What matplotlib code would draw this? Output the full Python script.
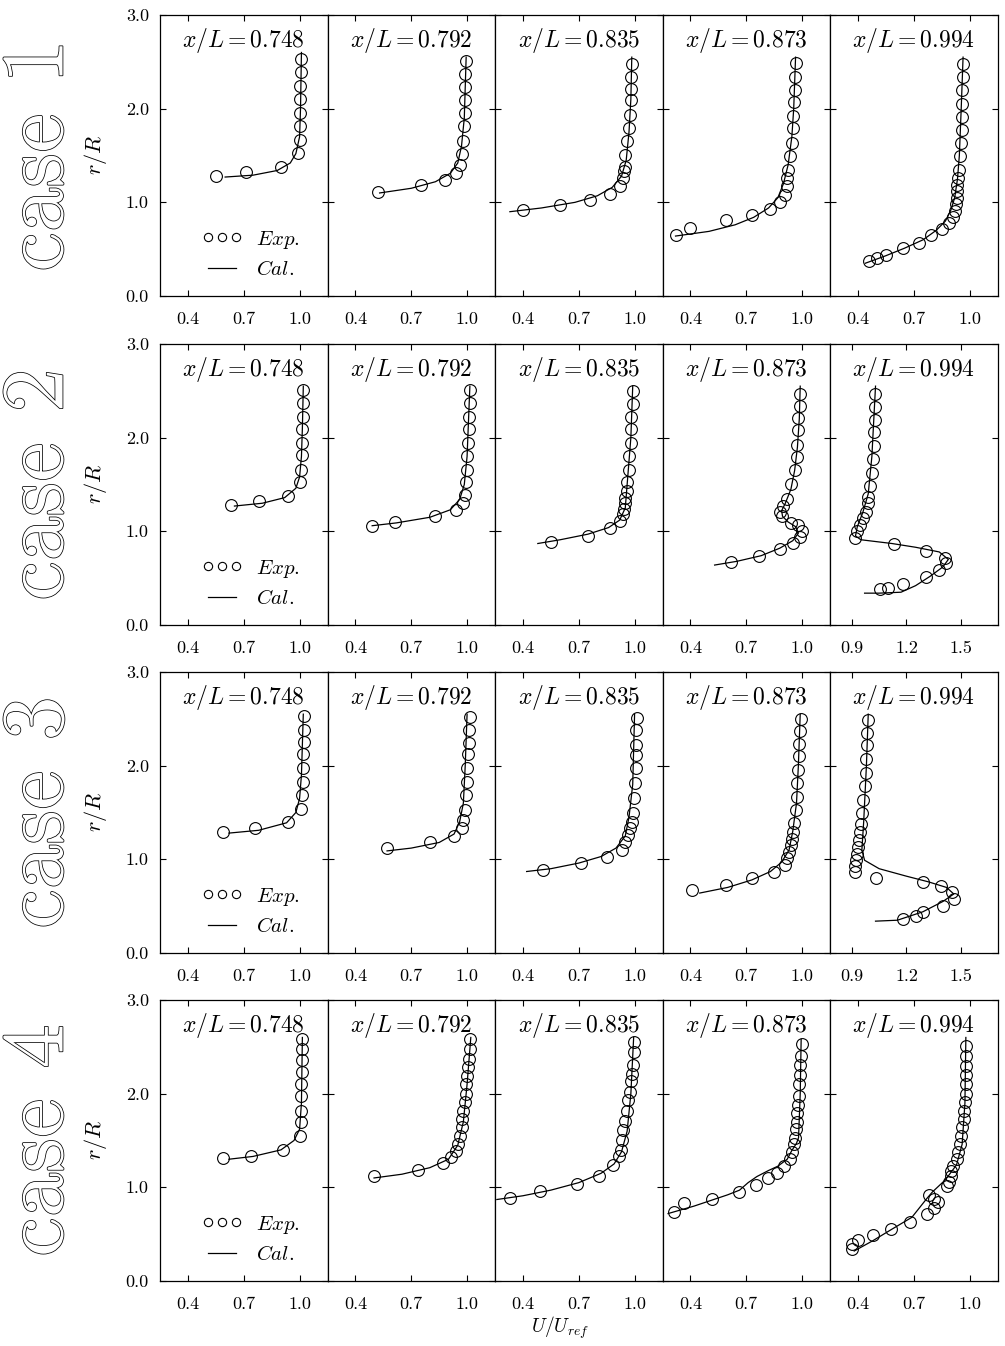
import matplotlib
matplotlib.use("Agg")
import matplotlib.pyplot as plt
import matplotlib.patheffects as pe

plt.rcParams['font.family'] = 'cmr10'
plt.rcParams['mathtext.fontset'] = 'cm'
plt.rcParams['axes.formatter.use_mathtext'] = True

stations = ['0.748', '0.792', '0.835', '0.873', '0.994']
case_names = ['case 1', 'case 2', 'case 3', 'case 4']

# tick sets: 'n' = 0.4/0.7/1.0, 'w' = 0.9/1.2/1.5
ticks_n = [0.4, 0.7, 1.0]
ticks_w = [0.9, 1.2, 1.5]
panel_kind = [['n', 'n', 'n', 'n', 'n'],
              ['n', 'n', 'n', 'n', 'w'],
              ['n', 'n', 'n', 'n', 'w'],
              ['n', 'n', 'n', 'n', 'n']]

# ---------------- case 1 ----------------
c1_exp_u = [
    [0.55, 0.71, 0.90, 0.99, 1.00, 1.00, 1.00, 1.00, 1.00, 1.01, 1.01],
    [0.52, 0.75, 0.88, 0.94, 0.96, 0.97, 0.98, 0.985, 0.99, 0.99, 0.99, 0.99, 0.995],
    [0.40, 0.60, 0.76, 0.87, 0.92, 0.94, 0.945, 0.95, 0.95, 0.96, 0.97, 0.975, 0.98, 0.98, 0.98, 0.985],
    [0.32, 0.40, 0.59, 0.73, 0.83, 0.88, 0.91, 0.92, 0.92, 0.925, 0.935, 0.945, 0.95, 0.95, 0.955, 0.96, 0.96, 0.965],
    [0.46, 0.50, 0.55, 0.64, 0.73, 0.79, 0.85, 0.89, 0.91, 0.92, 0.925, 0.93, 0.93, 0.935, 0.94, 0.945,
     0.95, 0.955, 0.96, 0.96, 0.96, 0.96, 0.965, 0.965],
]
c1_exp_r = [
    [1.28, 1.32, 1.38, 1.53, 1.67, 1.81, 1.95, 2.10, 2.24, 2.39, 2.53],
    [1.11, 1.18, 1.24, 1.31, 1.40, 1.52, 1.66, 1.81, 1.95, 2.09, 2.23, 2.37, 2.51],
    [0.92, 0.97, 1.02, 1.09, 1.17, 1.26, 1.33, 1.38, 1.51, 1.65, 1.79, 1.93, 2.09, 2.21, 2.34, 2.48],
    [0.65, 0.73, 0.81, 0.87, 0.93, 1.00, 1.08, 1.17, 1.26, 1.35, 1.49, 1.63, 1.79, 1.92, 2.07, 2.20, 2.34, 2.49],
    [0.37, 0.41, 0.44, 0.51, 0.57, 0.65, 0.72, 0.78, 0.84, 0.91, 0.98, 1.05, 1.12, 1.19, 1.26, 1.35,
     1.49, 1.63, 1.77, 1.91, 2.05, 2.20, 2.34, 2.48],
]
c1_cal_u = [
    [0.60, 0.75, 0.88, 0.95, 0.98, 1.00, 1.005, 1.01],
    [0.53, 0.70, 0.83, 0.91, 0.95, 0.97, 0.985, 0.995],
    [0.33, 0.50, 0.68, 0.80, 0.88, 0.93, 0.955, 0.97, 0.98, 0.985],
    [0.32, 0.50, 0.64, 0.74, 0.82, 0.87, 0.90, 0.925, 0.945, 0.955, 0.965],
    [0.44, 0.55, 0.65, 0.75, 0.82, 0.87, 0.90, 0.92, 0.935, 0.945, 0.955, 0.965],
]
c1_cal_r = [
    [1.27, 1.29, 1.34, 1.42, 1.52, 1.70, 2.00, 2.60],
    [1.10, 1.15, 1.22, 1.31, 1.42, 1.60, 1.90, 2.55],
    [0.90, 0.94, 1.00, 1.07, 1.16, 1.28, 1.45, 1.75, 2.10, 2.55],
    [0.64, 0.69, 0.76, 0.84, 0.94, 1.05, 1.20, 1.40, 1.70, 2.00, 2.55],
    [0.35, 0.43, 0.51, 0.60, 0.70, 0.80, 0.92, 1.05, 1.25, 1.50, 2.00, 2.55],
]

# ---------------- case 2 ----------------
c2_exp_u = [
    [0.63, 0.78, 0.94, 1.00, 1.01, 1.015, 1.015, 1.015, 1.02, 1.02, 1.02],
    [0.49, 0.61, 0.83, 0.94, 0.98, 0.99, 0.995, 1.00, 1.00, 1.005, 1.01, 1.01, 1.015, 1.015],
    [0.55, 0.75, 0.87, 0.92, 0.94, 0.945, 0.95, 0.95, 0.96, 0.96, 0.97, 0.97, 0.98, 0.98, 0.98, 0.99, 0.99],
    [0.62, 0.77, 0.88, 0.95, 0.99, 1.00, 0.98, 0.94, 0.89, 0.88, 0.90, 0.92, 0.94, 0.96, 0.97, 0.975,
     0.98, 0.98, 0.99, 0.99],
    [1.055, 1.10, 1.18, 1.31, 1.38, 1.415, 1.41, 1.31, 1.13, 0.915, 0.93, 0.945, 0.96, 0.975, 0.99, 0.99,
     1.00, 1.01, 1.015, 1.02, 1.02, 1.025, 1.025, 1.025],
]
c2_exp_r = [
    [1.28, 1.32, 1.38, 1.53, 1.66, 1.81, 1.94, 2.09, 2.22, 2.37, 2.51],
    [1.06, 1.10, 1.16, 1.23, 1.30, 1.39, 1.53, 1.66, 1.80, 1.94, 2.09, 2.22, 2.37, 2.51],
    [0.89, 0.95, 1.04, 1.11, 1.18, 1.24, 1.30, 1.36, 1.43, 1.53, 1.66, 1.80, 1.94, 2.09, 2.22, 2.36, 2.50],
    [0.67, 0.74, 0.81, 0.88, 0.94, 1.00, 1.07, 1.09, 1.16, 1.21, 1.27, 1.35, 1.51, 1.65, 1.79, 1.92,
     2.08, 2.21, 2.34, 2.47],
    [0.38, 0.40, 0.435, 0.51, 0.59, 0.665, 0.72, 0.795, 0.86, 0.93, 1.00, 1.07, 1.14, 1.21, 1.30, 1.37,
     1.48, 1.62, 1.77, 1.91, 2.06, 2.19, 2.33, 2.47],
]
c2_cal_u = [
    [0.65, 0.80, 0.92, 0.98, 1.00, 1.01, 1.015, 1.02],
    [0.49, 0.62, 0.80, 0.91, 0.96, 0.985, 1.00, 1.015],
    [0.48, 0.60, 0.75, 0.86, 0.92, 0.95, 0.96, 0.98, 0.99],
    [0.53, 0.65, 0.78, 0.88, 0.95, 0.98, 0.965, 0.925, 0.895, 0.89, 0.91, 0.94, 0.96, 0.975, 0.985, 0.99],
    [0.97, 1.05, 1.17, 1.25, 1.33, 1.40, 1.43, 1.38, 1.25, 1.12, 0.95, 0.92, 0.93, 0.96, 0.99, 1.01, 1.03],
]
c2_cal_r = [
    [1.27, 1.30, 1.36, 1.46, 1.58, 1.80, 2.10, 2.55],
    [1.06, 1.09, 1.15, 1.23, 1.34, 1.50, 1.80, 2.55],
    [0.87, 0.91, 0.97, 1.04, 1.12, 1.25, 1.50, 2.00, 2.55],
    [0.64, 0.68, 0.74, 0.82, 0.90, 0.98, 1.05, 1.10, 1.16, 1.22, 1.30, 1.45, 1.65, 1.90, 2.20, 2.55],
    [0.34, 0.34, 0.35, 0.42, 0.52, 0.62, 0.70, 0.78, 0.83, 0.87, 0.91, 0.95, 1.05, 1.20, 1.40, 1.80, 2.55],
]

# ---------------- case 3 ----------------
c3_exp_u = [
    [0.59, 0.76, 0.94, 1.01, 1.015, 1.02, 1.02, 1.02, 1.025, 1.025, 1.025],
    [0.57, 0.80, 0.93, 0.97, 0.98, 0.99, 0.995, 1.00, 1.00, 1.005, 1.01, 1.01, 1.015],
    [0.51, 0.71, 0.85, 0.935, 0.95, 0.965, 0.975, 0.985, 0.99, 0.995, 1.00, 1.005, 1.005, 1.01, 1.01, 1.015],
    [0.41, 0.59, 0.73, 0.85, 0.91, 0.92, 0.93, 0.94, 0.945, 0.95, 0.955, 0.965, 0.97, 0.975, 0.98, 0.985,
     0.985, 0.99, 0.995],
    [1.18, 1.25, 1.29, 1.40, 1.46, 1.45, 1.39, 1.29, 1.03, 0.92, 0.92, 0.925, 0.93, 0.935, 0.94, 0.945,
     0.95, 0.955, 0.96, 0.97, 0.975, 0.98, 0.985, 0.985, 0.99],
]
c3_exp_r = [
    [1.29, 1.33, 1.40, 1.54, 1.69, 1.83, 1.98, 2.12, 2.25, 2.38, 2.53],
    [1.12, 1.18, 1.25, 1.33, 1.42, 1.53, 1.69, 1.83, 1.97, 2.12, 2.24, 2.38, 2.52],
    [0.89, 0.965, 1.03, 1.10, 1.19, 1.26, 1.33, 1.40, 1.50, 1.65, 1.81, 1.97, 2.11, 2.22, 2.38, 2.51],
    [0.67, 0.73, 0.80, 0.87, 0.94, 1.01, 1.08, 1.15, 1.22, 1.29, 1.39, 1.53, 1.67, 1.81, 1.95, 2.10,
     2.23, 2.37, 2.50],
    [0.36, 0.40, 0.44, 0.50, 0.58, 0.65, 0.715, 0.76, 0.80, 0.86, 0.93, 0.99, 1.06, 1.13, 1.21, 1.29,
     1.38, 1.50, 1.63, 1.78, 1.92, 2.07, 2.22, 2.35, 2.49],
]
c3_cal_u = [
    [0.62, 0.78, 0.93, 0.98, 1.00, 1.01, 1.02],
    [0.57, 0.70, 0.85, 0.93, 0.96, 0.98, 0.99, 1.00],
    [0.42, 0.55, 0.70, 0.82, 0.90, 0.95, 0.97, 0.99, 1.00],
    [0.45, 0.60, 0.73, 0.83, 0.89, 0.93, 0.95, 0.97, 0.98, 0.99],
    [1.03, 1.15, 1.29, 1.40, 1.46, 1.42, 1.32, 1.20, 1.05, 0.97, 0.955, 0.965, 0.98, 0.99],
]
c3_cal_r = [
    [1.28, 1.31, 1.39, 1.50, 1.65, 1.90, 2.55],
    [1.09, 1.12, 1.18, 1.27, 1.40, 1.60, 2.00, 2.55],
    [0.87, 0.90, 0.96, 1.03, 1.12, 1.25, 1.45, 1.80, 2.55],
    [0.64, 0.70, 0.78, 0.87, 0.97, 1.10, 1.30, 1.60, 2.00, 2.55],
    [0.34, 0.35, 0.44, 0.55, 0.63, 0.70, 0.76, 0.82, 0.90, 0.99, 1.10, 1.40, 2.00, 2.55],
]

# ---------------- case 4 ----------------
c4_exp_u = [
    [0.59, 0.74, 0.91, 1.00, 1.01, 1.01, 1.01, 1.01, 1.015, 1.015, 1.015, 1.015],
    [0.50, 0.735, 0.87, 0.915, 0.94, 0.95, 0.96, 0.97, 0.975, 0.98, 0.99, 0.995, 0.995, 1.00, 1.005,
     1.01, 1.015, 1.015],
    [0.33, 0.49, 0.69, 0.81, 0.885, 0.915, 0.925, 0.935, 0.94, 0.95, 0.96, 0.965, 0.975, 0.98, 0.985,
     0.99, 0.995, 0.995],
    [0.31, 0.365, 0.515, 0.66, 0.755, 0.815, 0.865, 0.905, 0.935, 0.945, 0.955, 0.96, 0.965, 0.97, 0.975,
     0.98, 0.985, 0.985, 0.99, 0.99, 0.995, 1.00],
    [0.37, 0.37, 0.40, 0.48, 0.58, 0.68, 0.77, 0.81, 0.83, 0.81, 0.78, 0.88, 0.89, 0.90, 0.90, 0.91,
     0.93, 0.94, 0.95, 0.955, 0.96, 0.97, 0.97, 0.975, 0.98, 0.98, 0.98, 0.98, 0.98, 0.98],
]
c4_exp_r = [
    [1.31, 1.33, 1.40, 1.55, 1.70, 1.82, 1.97, 2.10, 2.23, 2.36, 2.48, 2.58],
    [1.12, 1.19, 1.26, 1.32, 1.39, 1.46, 1.55, 1.64, 1.73, 1.82, 1.91, 2.00, 2.10, 2.19, 2.28,
     2.37, 2.48, 2.58],
    [0.89, 0.96, 1.04, 1.12, 1.24, 1.33, 1.40, 1.51, 1.61, 1.71, 1.82, 1.93, 2.02, 2.13, 2.21,
     2.31, 2.44, 2.55],
    [0.74, 0.83, 0.88, 0.95, 1.03, 1.10, 1.15, 1.23, 1.30, 1.38, 1.46, 1.53, 1.62, 1.70, 1.79,
     1.88, 1.97, 2.10, 2.20, 2.31, 2.40, 2.53],
    [0.345, 0.39, 0.44, 0.49, 0.56, 0.63, 0.71, 0.78, 0.84, 0.88, 0.92, 1.01, 1.06, 1.12, 1.17, 1.23,
     1.30, 1.38, 1.46, 1.55, 1.64, 1.73, 1.82, 1.91, 2.00, 2.10, 2.20, 2.30, 2.40, 2.51],
]
c4_cal_u = [
    [0.62, 0.75, 0.90, 0.97, 1.00, 1.01, 1.015],
    [0.50, 0.65, 0.80, 0.90, 0.95, 0.98, 1.00, 1.02],
    [0.26, 0.40, 0.55, 0.70, 0.82, 0.89, 0.93, 0.96, 0.98, 0.995],
    [0.28, 0.42, 0.51, 0.60, 0.664, 0.71, 0.757, 0.82, 0.869, 0.92, 0.944, 0.97, 0.981, 0.99, 0.995],
    [0.38, 0.48, 0.58, 0.69, 0.77, 0.80, 0.87, 0.93, 0.96, 0.975, 0.98],
]
c4_cal_r = [
    [1.30, 1.33, 1.40, 1.50, 1.62, 1.90, 2.60],
    [1.10, 1.14, 1.21, 1.30, 1.45, 1.70, 2.10, 2.60],
    [0.87, 0.91, 0.97, 1.05, 1.15, 1.25, 1.38, 1.60, 2.00, 2.60],
    [0.72, 0.80, 0.86, 0.92, 0.97, 1.05, 1.115, 1.18, 1.225, 1.30, 1.39, 1.47, 1.53, 2.00, 2.58],
    [0.32, 0.43, 0.55, 0.68, 0.88, 0.95, 1.08, 1.24, 1.46, 1.90, 2.60],
]

exp_u = [c1_exp_u, c2_exp_u, c3_exp_u, c4_exp_u]
exp_r = [c1_exp_r, c2_exp_r, c3_exp_r, c4_exp_r]
cal_u = [c1_cal_u, c2_cal_u, c3_cal_u, c4_cal_u]
cal_r = [c1_cal_r, c2_cal_r, c3_cal_r, c4_cal_r]

W, H = 1005, 1346
fig = plt.figure(figsize=(W / 100, H / 100), dpi=100)

row_tops = [15, 344, 672, 1000]
row_h = 281
col_left = 160
col_w = 167.5

for i in range(4):
    for j in range(5):
        ax = fig.add_axes([(col_left + j * col_w) / W, 1 - (row_tops[i] + row_h) / H,
                           col_w / W, row_h / H])
        cal_line, = ax.plot(cal_u[i][j], cal_r[i][j], color='k', lw=0.9)
        exp_pts, = ax.plot(exp_u[i][j], exp_r[i][j], 'o', mfc='none', mec='k', ms=8.5, mew=0.8)

        if panel_kind[i][j] == 'w':
            ax.set_xlim(0.78, 1.70)
            ax.set_xticks(ticks_w)
        else:
            ax.set_xlim(0.25, 1.15)
            ax.set_xticks(ticks_n)
        ax.set_ylim(0, 3.0)
        ax.set_yticks([0, 1, 2, 3])
        ax.xaxis.set_major_formatter(matplotlib.ticker.FormatStrFormatter('%.1f'))
        ax.yaxis.set_major_formatter(matplotlib.ticker.FormatStrFormatter('%.1f'))
        ax.tick_params(direction='in', top=True, right=True, length=4, width=0.8,
                       labelsize=13)
        ax.tick_params(axis='x', pad=11)
        ax.tick_params(axis='y', pad=8)
        if j > 0:
            ax.tick_params(axis='y', labelleft=False)
        for s in ax.spines.values():
            s.set_linewidth(0.9)

        ax.text(0.5, 0.91, r'$x/L=' + stations[j] + '$', transform=ax.transAxes,
                ha='center', va='center', fontsize=17)

        if j == 0:
            ax.legend([exp_pts, cal_line], [r'$Exp.$', r'$Cal.$'], loc='center left',
                      bbox_to_anchor=(0.19, 0.15), frameon=False, numpoints=3,
                      markerscale=0.7, handlelength=1.9, handletextpad=0.7,
                      labelspacing=0.45, borderpad=0, fontsize=15)

    yc = 1 - (row_tops[i] + row_h / 2) / H
    fig.text(40 / W, yc, case_names[i], rotation=90, ha='center', va='center',
             fontsize=64, family='cmr10', color='white',
             path_effects=[pe.withStroke(linewidth=1.1, foreground='black')])
    fig.text(95 / W, yc, r'$r/R$', rotation=90, ha='center', va='center', fontsize=16)

fig.text(560 / W, 1 - 1328 / H, r'$U/U_{ref}$', ha='center', va='center', fontsize=14)

fig.savefig('out.png', dpi=100)
